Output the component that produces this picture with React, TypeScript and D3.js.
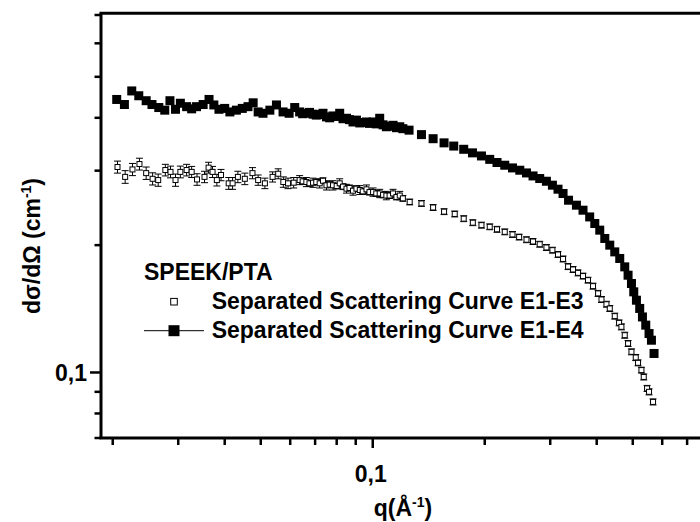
import React from 'react';
import * as d3 from 'd3';

// ---------- data ----------
// Separated Scattering Curve E1-E4 (filled squares): [q (1/Å), dσ/dΩ (1/cm)]
const e1e4: [number, number][] = [
  [0.0205, 0.442], [0.0215, 0.430], [0.0225, 0.463], [0.0235, 0.451], [0.0246, 0.439],
  [0.0255, 0.430], [0.0266, 0.423], [0.0276, 0.417], [0.0285, 0.439], [0.0295, 0.419],
  [0.0304, 0.433], [0.0316, 0.425], [0.0326, 0.420], [0.0336, 0.425], [0.0350, 0.430],
  [0.0363, 0.442], [0.0374, 0.429], [0.0386, 0.419], [0.0400, 0.421], [0.0413, 0.413],
  [0.0430, 0.417], [0.0446, 0.421], [0.0462, 0.425], [0.0477, 0.434], [0.0492, 0.413],
  [0.0507, 0.410], [0.0529, 0.417], [0.0551, 0.429], [0.0574, 0.413], [0.0596, 0.410],
  [0.0617, 0.423], [0.0636, 0.413], [0.0648, 0.409], [0.0663, 0.410], [0.0676, 0.412],
  [0.0691, 0.408], [0.0705, 0.406], [0.0720, 0.407], [0.0735, 0.410], [0.0751, 0.402],
  [0.0766, 0.400], [0.0782, 0.404], [0.0800, 0.403], [0.0815, 0.410], [0.0832, 0.398],
  [0.0850, 0.399], [0.0866, 0.396], [0.0885, 0.391], [0.0904, 0.395], [0.0923, 0.389],
  [0.0940, 0.390], [0.0962, 0.391], [0.0980, 0.388], [0.1002, 0.391], [0.1022, 0.387],
  [0.1044, 0.399], [0.1066, 0.385], [0.1088, 0.381], [0.1110, 0.382], [0.1134, 0.384],
  [0.1158, 0.379], [0.1182, 0.381], [0.1205, 0.377], [0.1252, 0.374], [0.1352, 0.365],
  [0.1453, 0.357], [0.1555, 0.349], [0.1651, 0.343], [0.1756, 0.337], [0.1854, 0.3305],
  [0.1960, 0.325], [0.2063, 0.319], [0.2158, 0.3136], [0.2264, 0.309], [0.2375, 0.3045],
  [0.2485, 0.3007], [0.2590, 0.2963], [0.2697, 0.2915], [0.2811, 0.2874], [0.2930, 0.2832],
  [0.3041, 0.2772], [0.3148, 0.2712], [0.3248, 0.2649], [0.3360, 0.2554], [0.3528, 0.2486],
  [0.3675, 0.2419], [0.3830, 0.2332], [0.3953, 0.225], [0.4076, 0.217], [0.4205, 0.2074],
  [0.4337, 0.200], [0.4473, 0.1928], [0.4613, 0.186], [0.4758, 0.1777], [0.4857, 0.1698],
  [0.4960, 0.1623], [0.5031, 0.1551], [0.5115, 0.1482], [0.5220, 0.1417], [0.5309, 0.1353],
  [0.5419, 0.1294], [0.5530, 0.1236], [0.5613, 0.1192], [0.5704, 0.1109],
];

// Separated Scattering Curve E1-E3 (open squares): [q, dσ/dΩ, error]
const e1e3: [number, number, number][] = [
  [0.0206, 0.306, 0.010], [0.0216, 0.290, 0.010], [0.0226, 0.302, 0.010], [0.0236, 0.311, 0.010],
  [0.0246, 0.296, 0.010], [0.0256, 0.287, 0.0095], [0.0265, 0.285, 0.0095], [0.0277, 0.301, 0.0095],
  [0.0286, 0.298, 0.0095], [0.0295, 0.285, 0.0095], [0.0304, 0.298, 0.0095], [0.0316, 0.301, 0.0095],
  [0.0326, 0.298, 0.009], [0.0337, 0.286, 0.009], [0.0353, 0.290, 0.009], [0.0362, 0.305, 0.009],
  [0.0371, 0.298, 0.009], [0.0381, 0.285, 0.009], [0.0391, 0.293, 0.009], [0.0410, 0.280, 0.009],
  [0.0420, 0.280, 0.009], [0.0434, 0.290, 0.009], [0.0453, 0.287, 0.009], [0.0475, 0.296, 0.009],
  [0.0492, 0.285, 0.008], [0.0513, 0.280, 0.008], [0.0538, 0.290, 0.008], [0.0557, 0.295, 0.008],
  [0.0575, 0.282, 0.008], [0.0592, 0.280, 0.008], [0.0613, 0.281, 0.008], [0.0636, 0.285, 0.007],
  [0.0648, 0.283, 0.0045], [0.0663, 0.282, 0.007], [0.0676, 0.280, 0.0045], [0.0691, 0.281, 0.007],
  [0.0705, 0.282, 0.0045], [0.0720, 0.280, 0.007], [0.0735, 0.284, 0.0045], [0.0751, 0.277, 0.007],
  [0.0766, 0.278, 0.0045], [0.0782, 0.277, 0.007], [0.0800, 0.276, 0.0044], [0.0815, 0.280, 0.007],
  [0.0832, 0.275, 0.0044], [0.0850, 0.272, 0.0065], [0.0866, 0.273, 0.0044], [0.0885, 0.269, 0.0065],
  [0.0904, 0.272, 0.0043], [0.0923, 0.270, 0.0065], [0.0940, 0.268, 0.0043], [0.0962, 0.271, 0.0065],
  [0.0980, 0.267, 0.0043], [0.1002, 0.267, 0.006], [0.1022, 0.265, 0.0042], [0.1044, 0.265, 0.006],
  [0.1066, 0.263, 0.0042], [0.1088, 0.262, 0.006], [0.1110, 0.262, 0.0042], [0.1134, 0.265, 0.006],
  [0.1158, 0.260, 0.0041], [0.1182, 0.262, 0.006], [0.1205, 0.258, 0.0041], [0.1257, 0.253, 0.0040],
  [0.1352, 0.251, 0.0040], [0.1453, 0.2455, 0.0039], [0.1555, 0.240, 0.0038], [0.1661, 0.237, 0.0038],
  [0.1756, 0.231, 0.0037], [0.1858, 0.226, 0.0036], [0.1960, 0.223, 0.0036], [0.2063, 0.221, 0.0035],
  [0.2158, 0.218, 0.0035], [0.2264, 0.215, 0.0034], [0.2375, 0.212, 0.0034], [0.2475, 0.209, 0.0033],
  [0.2590, 0.206, 0.0033], [0.2697, 0.204, 0.0033], [0.2811, 0.201, 0.0032], [0.2930, 0.1975, 0.0032],
  [0.3041, 0.1946, 0.0031], [0.3148, 0.1901, 0.0030], [0.3248, 0.1855, 0.0030], [0.3350, 0.178, 0.0029],
  [0.3455, 0.1752, 0.0028], [0.3563, 0.172, 0.0028], [0.3675, 0.169, 0.0027], [0.3790, 0.1653, 0.0026],
  [0.3910, 0.160, 0.0026], [0.4034, 0.1538, 0.0025], [0.4120, 0.1488, 0.0024], [0.4249, 0.145, 0.0023],
  [0.4337, 0.1417, 0.0023], [0.4473, 0.1359, 0.0022], [0.4594, 0.131, 0.0021], [0.4661, 0.1282, 0.0021],
  [0.4758, 0.1225, 0.0020], [0.4857, 0.1171, 0.0019], [0.4960, 0.1119, 0.0018], [0.5093, 0.1085, 0.0018],
  [0.5166, 0.1054, 0.0017], [0.5276, 0.1013, 0.0016], [0.5352, 0.0976, 0.0016], [0.5463, 0.0917, 0.0015],
  [0.5530, 0.0900, 0.0015], [0.5669, 0.0852, 0.0014],
];

const xMajorTicks = [0.1];
const xMinorTicks = [0.02, 0.03, 0.04, 0.05, 0.06, 0.07, 0.08, 0.09, 0.2, 0.3, 0.4, 0.5, 0.6, 0.7, 0.8, 0.9];
const yMajorTicks = [0.1];
const yMinorTicks = [0.07, 0.08, 0.09, 0.2, 0.3, 0.4, 0.5, 0.6, 0.7];
const tickLabel = (v: number) => String(v).replace('.', ',');

const legendTitle = 'SPEEK/PTA';
const seriesNames = ['Separated Scattering Curve E1-E3', 'Separated Scattering Curve E1-E4'];

const FONT = "'Liberation Sans', Arial, Helvetica, sans-serif";

export default function App() {
  const W = 700, H = 522;
  const left = 101, bottom = 438, top = 13.3;
  const xDom: [number, number] = [0.0186, 0.9];
  const yDom: [number, number] = [0.07, 0.706];
  const x = d3.scaleLog().domain(xDom).range([left, left + 372 * Math.log10(xDom[1] / xDom[0])]);
  const y = d3.scaleLog().domain(yDom).range([bottom, bottom - 423 * Math.log10(yDom[1] / yDom[0])]);

  const fs = 23;
  const fSq = 9;
  const oSq = 5;

  return (
    <svg width={W} height={H} style={{ position: 'absolute', left: 0, top: 0, background: '#fff' }}
      fontFamily={FONT} fontWeight="bold">
      <rect x={0} y={0} width={W} height={H} fill="#fff" />
      {/* open series with error bars */}
      <g stroke="#000" strokeWidth={1} fill="none">
        {e1e3.map(([q, v, e], i) => {
          const cx = x(q), cy = y(v), y1 = y(v + e), y2 = y(v - e);
          return (
            <g key={'eb' + i}>
              <line x1={cx} x2={cx} y1={y1} y2={y2} />
              <line x1={cx - 3.5} x2={cx + 3.5} y1={y1} y2={y1} />
              <line x1={cx - 3.5} x2={cx + 3.5} y1={y2} y2={y2} />
            </g>
          );
        })}
        {e1e3.map(([q, v], i) => (
          <rect key={'o' + i} x={x(q) - oSq / 2} y={y(v) - oSq / 2} width={oSq} height={oSq} fill="#fff" />
        ))}
      </g>
      {/* filled series */}
      <g fill="#000">
        {e1e4.map(([q, v], i) => (
          <rect key={'f' + i} x={x(q) - fSq / 2} y={y(v) - fSq / 2} width={fSq} height={fSq} />
        ))}
      </g>

      {/* frame (right side lies outside the picture) */}
      <g stroke="#000" fill="none">
        <line x1={left} x2={left} y1={top} y2={bottom} strokeWidth={3} />
        <line x1={left - 1.5} x2={W} y1={bottom} y2={bottom} strokeWidth={3} />
        <line x1={left - 1.5} x2={W} y1={top} y2={top} strokeWidth={3} />
        {xMinorTicks.map(t => (
          <line key={'xm' + t} x1={x(t)} x2={x(t)} y1={bottom} y2={bottom + 7} strokeWidth={2.5} />
        ))}
        {xMajorTicks.map(t => (
          <line key={'xM' + t} x1={x(t)} x2={x(t)} y1={bottom} y2={bottom + 10} strokeWidth={2.5} />
        ))}
        {yMinorTicks.map(t => (
          <line key={'ym' + t} x1={left - 6.5} x2={left} y1={y(t)} y2={y(t)} strokeWidth={2.5} />
        ))}
        {yMajorTicks.map(t => (
          <line key={'yM' + t} x1={left - 11} x2={left} y1={y(t)} y2={y(t)} strokeWidth={2.5} />
        ))}
      </g>

      {/* tick labels */}
      {xMajorTicks.map(t => (
        <text key={'xl' + t} x={x(t) - 2} y={481.5} fontSize={fs} textAnchor="middle" fill="#000">{tickLabel(t)}</text>
      ))}
      {yMajorTicks.map(t => (
        <text key={'yl' + t} x={87} y={y(t) + 8.3} fontSize={fs} textAnchor="end" fill="#000">{tickLabel(t)}</text>
      ))}

      {/* axis titles */}
      <text x={403} y={516} fontSize={fs} textAnchor="middle" fill="#000">
        q(Å<tspan fontSize={14} dy={-9}>-1</tspan><tspan dy={9}>)</tspan>
      </text>
      <text transform={`translate(40,246) rotate(-90)`} fontSize={fs} textAnchor="middle" fill="#000">
        dσ/dΩ (cm<tspan fontSize={14} dy={-9}>-1</tspan><tspan dy={9}>)</tspan>
      </text>

      {/* legend */}
      <text x={144} y={280} fontSize={fs} fill="#000">{legendTitle}</text>
      <rect x={174 - 3.3} y={301.7 - 3.3} width={6.6} height={6.6} fill="#fff" stroke="#000" strokeWidth={1} />
      <text x={211.7} y={309} fontSize={fs} fill="#000">{seriesNames[0]}</text>
      <line x1={144} x2={204} y1={330.7} y2={330.7} stroke="#000" strokeWidth={1} />
      <rect x={174 - 5.5} y={330.7 - 5.5} width={11} height={11} fill="#000" />
      <text x={211.7} y={338.3} fontSize={fs} fill="#000">{seriesNames[1]}</text>
    </svg>
  );
}
